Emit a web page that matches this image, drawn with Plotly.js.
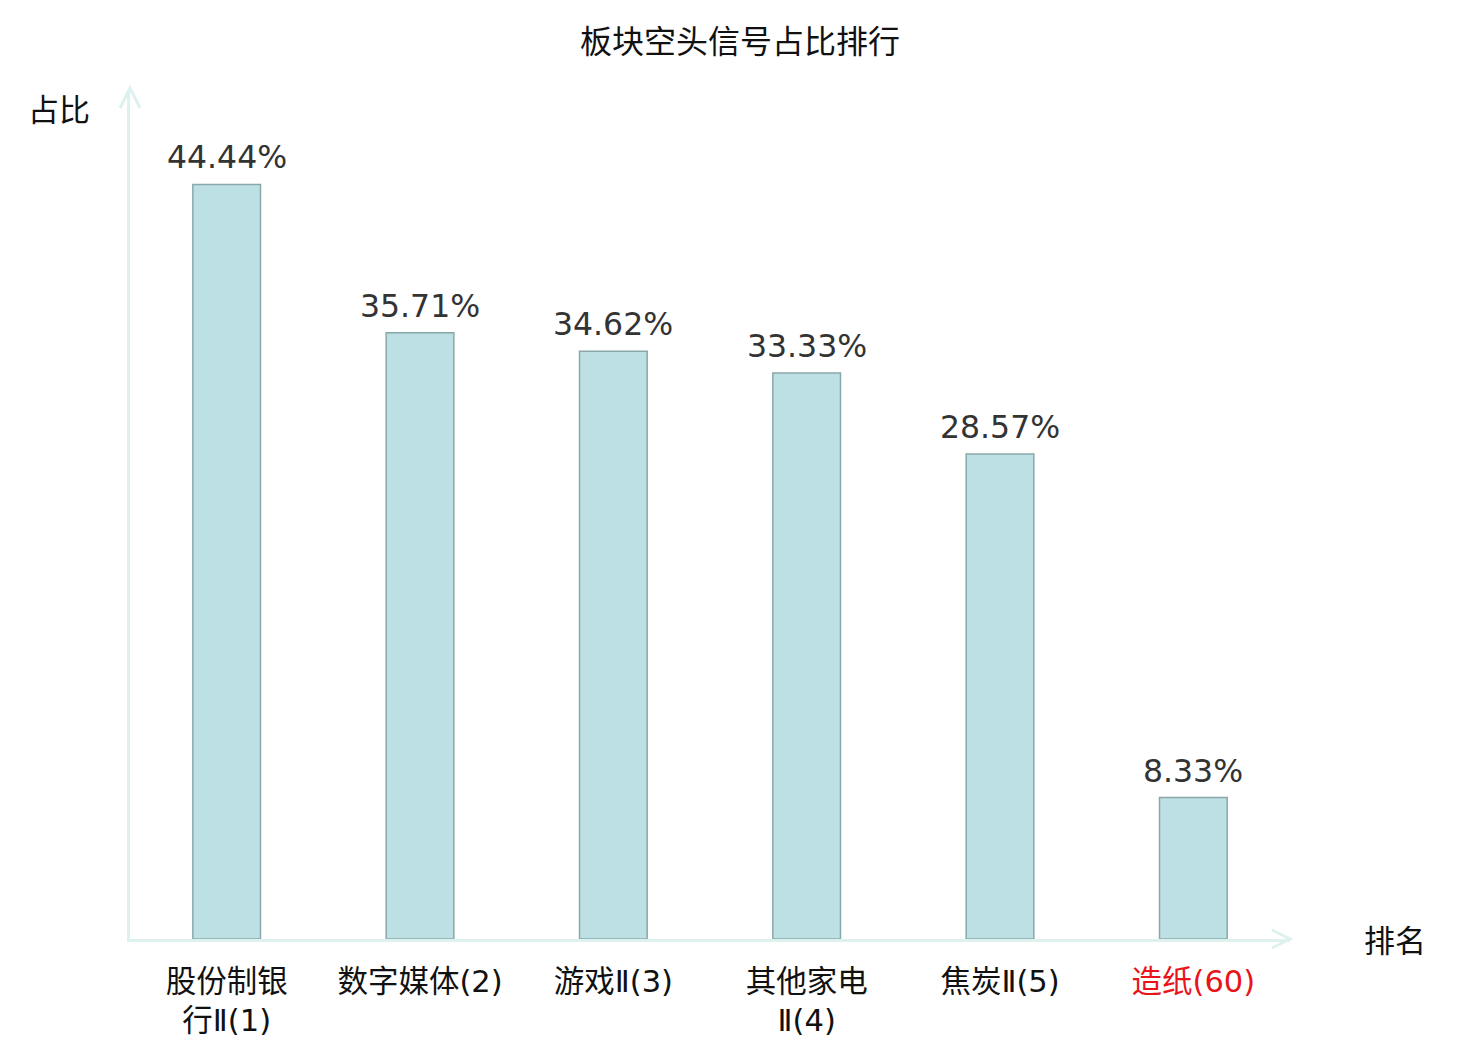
<!DOCTYPE html>
<html>
<head>
<meta charset="utf-8">
<script src="https://cdn.plot.ly/plotly-3.0.1.min.js"></script>
<style>
  html, body { margin: 0; padding: 0; background: #fff; }
  #chart { width: 1480px; height: 1040px; }
</style>
</head>
<body>
<div id="chart"></div>
<script>
// sector names with their rank in brackets
const sectors = ['股份制银<br>行Ⅱ(1)', '数字媒体(2)', '游戏Ⅱ(3)', '其他家电<br>Ⅱ(4)', '焦炭Ⅱ(5)', '造纸(60)'];
const shares = [44.44, 35.71, 34.62, 33.33, 28.57, 8.33];
const highlight = [false, false, false, false, false, true];

const FONT = 'DejaVu Sans, "Noto Sans CJK SC", sans-serif';
const AXIS_COLOR = '#ddf1ee';

const ticktext = sectors.map((s, i) =>
  highlight[i] ? `<span style="color:#e8141a">${s}</span>` : s);

const bars = {
  type: 'bar',
  x: sectors.map((_, i) => i),
  y: shares,
  width: 0.35,
  marker: { color: '#bce0e3', line: { color: '#8aa8aa', width: 1.5 } },
  hoverinfo: 'skip',
  showlegend: false
};

const valueLabels = shares.map((v, i) => ({
  x: i, y: v, xref: 'x', yref: 'y',
  text: v.toFixed(2) + '%',
  showarrow: false,
  yanchor: 'bottom',
  yshift: 7,
  font: { family: FONT, size: 31.5, color: '#333' }
}));

const layout = {
  width: 1480,
  height: 1040,
  margin: { l: 130, r: 190, t: 90, b: 101 },
  paper_bgcolor: '#fff',
  plot_bgcolor: '#fff',
  font: { family: FONT, color: '#111' },
  title: {
    text: '板块空头信号占比排行',
    x: 0.5, xanchor: 'center',
    y: 1 - 42 / 1040, yanchor: 'middle',
    font: { family: FONT, size: 32, color: '#111' }
  },
  xaxis: {
    range: [-0.5, 5.5],
    tickmode: 'array',
    tickvals: sectors.map((_, i) => i),
    ticktext: ticktext,
    ticks: '',
    ticklabelstandoff: 13,
    tickfont: { family: FONT, size: 30.5, color: '#111' },
    showline: true, linecolor: AXIS_COLOR, linewidth: 3,
    showgrid: false, zeroline: false, fixedrange: true
  },
  yaxis: {
    range: [0, 50],
    showticklabels: false,
    ticks: '',
    showline: true, linecolor: AXIS_COLOR, linewidth: 3,
    showgrid: false, zeroline: false, fixedrange: true
  },
  shapes: [
    // arrow heads on both axes
    {
      type: 'path', xref: 'paper', yref: 'paper',
      xsizemode: 'pixel', ysizemode: 'pixel', xanchor: 0, yanchor: 1,
      path: 'M -10 -18 L 0 2 L 10 -18',
      line: { color: AXIS_COLOR, width: 3 }
    },
    {
      type: 'path', xref: 'paper', yref: 'paper',
      xsizemode: 'pixel', ysizemode: 'pixel', xanchor: 1, yanchor: 0,
      path: 'M -18 9 L 0 0 L -18 -9',
      line: { color: AXIS_COLOR, width: 3 }
    }
  ],
  annotations: valueLabels.concat([
    {
      text: '占比', xref: 'paper', yref: 'paper',
      x: -0.033, y: 0.9765, xanchor: 'right', yanchor: 'middle',
      showarrow: false, font: { family: FONT, size: 31, color: '#111' }
    },
    {
      text: '排名', xref: 'paper', yref: 'paper',
      x: 1.062, y: -0.002, xanchor: 'left', yanchor: 'middle',
      showarrow: false, font: { family: FONT, size: 31, color: '#111' }
    }
  ])
};

Plotly.newPlot('chart', [bars], layout, { displayModeBar: false, staticPlot: true });
</script>
</body>
</html>
